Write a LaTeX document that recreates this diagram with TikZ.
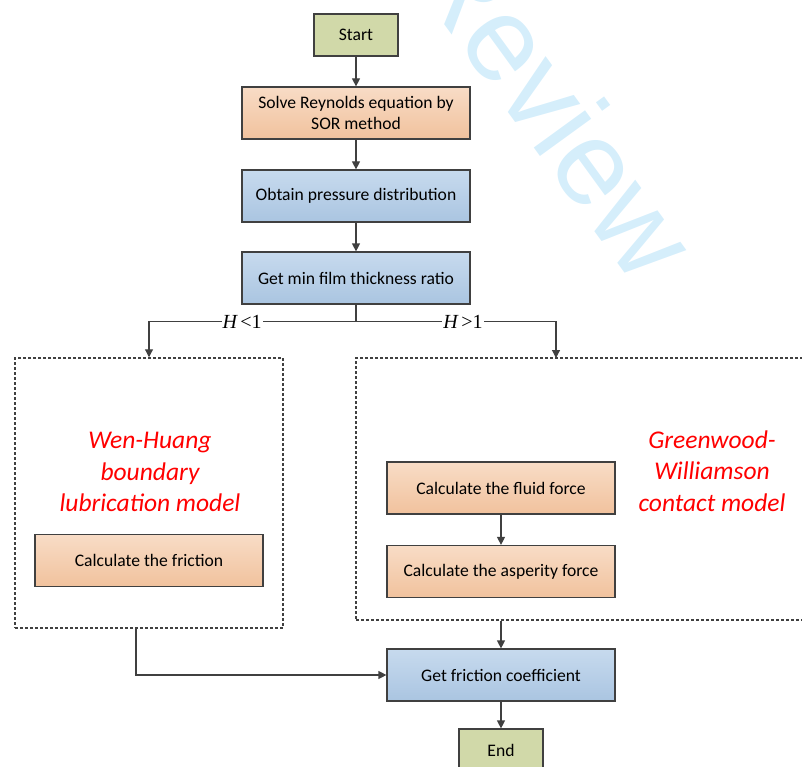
\documentclass[tikz,border=0pt]{standalone}
\usepackage{fontspec}
\setmainfont{Carlito}
\newfontfamily\condfont{Liberation Serif}
\newfontfamily\wmfont{Liberation Sans}
\usepackage{xcolor}
\usetikzlibrary{positioning,arrows.meta}

\definecolor{edgegray}{HTML}{404040}
\definecolor{termgreen}{HTML}{D1D9A9}
\definecolor{orangetop}{HTML}{F8DCC6}
\definecolor{orangebot}{HTML}{F1C29D}
\definecolor{bluetop}{HTML}{C7DAEE}
\definecolor{bluebot}{HTML}{AAC5E1}
\definecolor{wmblue}{HTML}{D5EEFB}

\tikzset{
	basebox/.style={draw=edgegray, line width=1.2pt, inner sep=2pt, align=center, minimum height=52pt, font=\fontsize{17.6}{20.7}\selectfont},
	termbox/.style={basebox, fill=termgreen, minimum width=84pt, minimum height=42pt},
	orangebox/.style={basebox, top color=orangetop, bottom color=orangebot, minimum width=228pt},
	bluebox/.style={basebox, top color=bluetop, bottom color=bluebot, minimum width=228pt},
	groupbox/.style={draw=edgegray, line width=1.5pt, dash pattern=on 3pt off 2pt, inner sep=0pt},
	flow/.style={draw=edgegray, line width=1.2pt, -{Triangle[length=8pt,width=8pt]}},
	link/.style={draw=edgegray, line width=1.2pt},
	cond/.style={fill=white, inner sep=1pt, font=\condfont\fontsize{20}{20}\selectfont},
	modeltext/.style={text=red, align=center, font=\fontsize{25.5}{31.5}\selectfont\itshape},
	wmark/.style={text=wmblue, inner sep=0pt, font=\wmfont\fontsize{120}{120}\selectfont}
}

\begin{document}
\begin{tikzpicture}[x=1pt,y=-1pt]
	\useasboundingbox (0,0) rectangle (802,767);
	\node[wmark, anchor=base west, rotate=-54] (wm) at (404,-31) {Review};

	\node[termbox] (start) at (356,35) {Start};
	\node[orangebox] (sor) at (356,113) {Solve Reynolds equation by\\SOR method};
	\node[bluebox] (pres) at (356,196) {Obtain pressure distribution};
	\node[bluebox] (film) at (356,278) {Get min film thickness ratio};
	\draw[flow] (start) -- (sor);
	\draw[flow] (sor) -- (pres);
	\draw[flow] (pres) -- (film);

	\node[groupbox, minimum width=268pt, minimum height=270pt] (wh) at (149,493) {};
	\node[groupbox, minimum width=470pt, minimum height=262pt] (gw) at (591,489) {};
	\coordinate (gwin) at (556,358);

	\draw[link] (film.south) -- ++(0,17) coordinate (split);
	\draw[flow] (split) -| node[cond, pos=0.275] (lt) {{\itshape H}\,<1} (wh.north);
	\draw[flow] (split) -| node[cond, pos=0.2675] (gt) {{\itshape H}\,>1} (gwin);

	\node[modeltext] (whname) at (150,472) {Wen-Huang\\boundary\\lubrication model};
	\node[orangebox] (fric) at (149,560.5) {Calculate the friction};

	\node[modeltext] (gwname) at (712,471) {Greenwood-\\Williamson\\contact model};
	\node[orangebox] (fluid) at (501,488) {Calculate the fluid force};
	\node[orangebox] (asp) at (501,571.5) {Calculate the asperity force};
	\draw[flow] (fluid) -- (asp);

	\node[bluebox] (coef) at (501,675) {Get friction coefficient};
	\node[termbox] (end) at (501,750) {End};
	\draw[flow] ([xshift=-13pt]wh.south) |- (coef.west);
	\draw[flow] (coef.north |- gw.south) -- (coef.north);
	\draw[flow] (coef) -- (end);
\end{tikzpicture}
\end{document}
